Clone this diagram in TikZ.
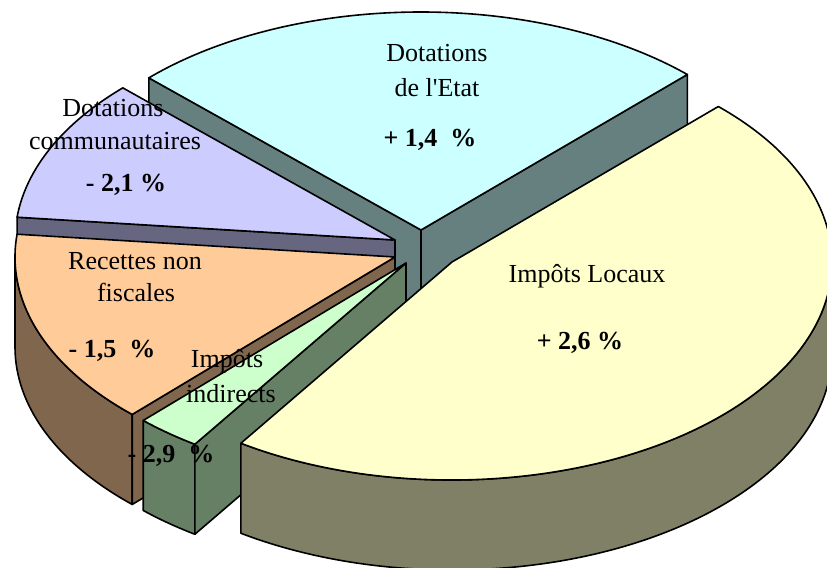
\documentclass[tikz,border=0pt]{standalone}
\usepackage{fontspec}
\setmainfont{Liberation Serif}
\usepackage{tikz}

\definecolor{etat}{RGB}{204,255,255}
\definecolor{etatside}{RGB}{102,128,128}
\definecolor{comm}{RGB}{204,204,255}
\definecolor{commside}{RGB}{102,102,128}
\definecolor{recet}{RGB}{255,204,153}
\definecolor{recetside}{RGB}{128,102,77}
\definecolor{indir}{RGB}{204,255,204}
\definecolor{indirside}{RGB}{102,128,102}
\definecolor{locaux}{RGB}{255,255,204}
\definecolor{locauxside}{RGB}{128,128,102}

\begin{document}
\begin{tikzpicture}[x=0.75pt,y=0.75pt,
    part/.style={draw=black,line width=1.2pt,line join=round},
    rim/.style={x radius=285pt,y radius=163.5pt},
    lbl/.style={anchor=base,inner sep=0pt,font=\fontsize{19.5}{24}\selectfont},
    val/.style={lbl,font=\fontsize{19.5}{24}\selectfont\bfseries}]
  \useasboundingbox (0,0) rectangle (827,567);
  \clip (0,0) rectangle (827,567);
  % Dotations de l'Etat
  \begin{scope}[shift={(421,337)}]
    \draw[part,fill=etatside] (0,0) -- (135.75:285pt and 163.5pt) -- ++(0,-90) -- (0,-90) -- cycle;
    \draw[part,fill=etatside] (0,0) -- (45.5:285pt and 163.5pt) -- ++(0,-90) -- (0,-90) -- cycle;
    \draw[part,fill=etat] (0,0) -- (45.5:285pt and 163.5pt) arc[rim,start angle=45.5,end angle=135.75] -- cycle;
  \end{scope}
  % Dotations communautaires
  \begin{scope}[shift={(395,327)}]
    \draw[part,fill=commside] (0,0) -- (174:285pt and 163.5pt) -- ++(0,-90) -- (0,-90) -- cycle;
    \draw[part,fill=comm] (0,0) -- (135.75:285pt and 163.5pt) arc[rim,start angle=135.75,end angle=174] -- cycle;
  \end{scope}
  % Recettes non fiscales
  \begin{scope}[shift={(395,310)}]
    \draw[part,fill=recetside] (180:285pt and 163.5pt) arc[rim,start angle=180,end angle=226.25] -- ++(0,-90) arc[rim,start angle=226.25,end angle=180] -- cycle;
    \draw[part,fill=recetside] (0,0) -- (226.25:285pt and 163.5pt) -- ++(0,-90) -- (0,-90) -- cycle;
    \draw[part,fill=recet] (0,0) -- (174:285pt and 163.5pt) arc[rim,start angle=174,end angle=226.25] -- cycle;
  \end{scope}
  % Impots indirects
  \begin{scope}[shift={(406,304)}]
    \draw[part,fill=indirside] (226.25:285pt and 163.5pt) arc[rim,start angle=226.25,end angle=236.25] -- ++(0,-90) arc[rim,start angle=236.25,end angle=226.25] -- cycle;
    \draw[part,fill=indirside] (0,0) -- (236.25:285pt and 163.5pt) -- ++(0,-90) -- (0,-90) -- cycle;
    \draw[part,fill=indir] (0,0) -- (226.25:285pt and 163.5pt) arc[rim,start angle=226.25,end angle=236.25] -- cycle;
  \end{scope}
  % Impots Locaux
  \begin{scope}[shift={(452,305)}]
    \draw[part,fill=locauxside] (236.25:285pt and 163.5pt) arc[rim,start angle=236.25,end angle=360] -- ++(0,-90) arc[rim,start angle=360,end angle=236.25] -- cycle;
    \draw[part,fill=locaux] (0,0) -- (236.25:285pt and 163.5pt) arc[rim,start angle=236.25,end angle=405.5] -- cycle;
  \end{scope}
  % labels
  \node[lbl] (etatA) at (437,505) {Dotations};
  \node[lbl] (etatB) at (437,470) {de l\textquotesingle Etat};
  \node[val] (etatC) at (430,420) {+ 1,4\hspace{0.5em}\%};
  \node[lbl] (commA) at (113,450) {Dotations};
  \node[lbl] (commB) at (115,417) {communautaires};
  \node[val] (commC) at (126,375) {- 2,1 \%};
  \node[lbl] (recetA) at (135,297) {Recettes non};
  \node[lbl] (recetB) at (136,265) {fiscales};
  \node[val] (recetC) at (112,209) {- 1,5\hspace{0.5em}\%};
  \node[lbl] (indirA) at (227,199) {Impôts};
  \node[lbl] (indirB) at (231,164) {indirects};
  \node[val] (indirC) at (171,104) {- 2,9\hspace{0.5em}\%};
  \node[lbl] (locauxA) at (587,284) {Impôts Locaux};
  \node[val] (locauxB) at (580,217) {+ 2,6 \%};
\end{tikzpicture}
\end{document}
